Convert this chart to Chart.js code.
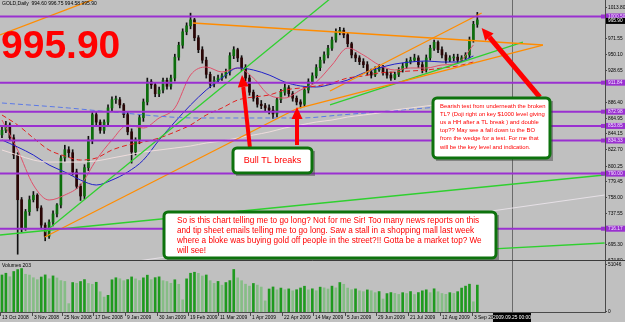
<!DOCTYPE html>
<html>
<head>
<meta charset="utf-8">
<script src="https://cdn.jsdelivr.net/npm/chart.js@4.4.1/dist/chart.umd.min.js"></script>
<style>
  body { margin: 0; background: #c0c0c0; }
  #wrap { position: relative; width: 625px; height: 322px; background: #c0c0c0; overflow: hidden; }
  #pbox { position: absolute; left: 0; top: 0; width: 625px; height: 261px; }
  #vbox { position: absolute; left: 0; top: 261px; width: 625px; height: 61px; }
</style>
</head>
<body>
<div id="wrap">
  <div id="pbox"><canvas id="priceChart"></canvas></div>
  <div id="vbox"><canvas id="volChart"></canvas></div>
</div>
<script>
// GOLD daily, Oct 2008 - Sep 2009 (one candle here = two trading days)
const opens = [842,848,855,838,815,755,717,739,755,761,
  744,721,706,725,736,748,811,822,818,792,
  773,760,798,835,869,859,848,859,878,889,
  889,882,869,846,819,835,865,886,913,909,
  897,902,915,907,918,946,962,980,988,996,
  972,956,942,923,910,915,918,921,926,948,
  956,945,932,918,899,891,883,881,878,875,
  870,889,899,905,897,891,886,883,902,913,
  921,932,942,949,958,969,980,982,976,964,
  949,945,940,936,926,922,929,932,926,922,
  918,923,929,934,940,942,945,936,929,945,
  958,966,956,949,942,945,946,942,945,949,
  969,990];
const highs = [852,860,858,842,818,758,742,760,766,763,
  747,724,728,740,750,814,828,826,822,796,
  776,802,840,872,872,862,862,882,893,894,
  892,884,872,850,838,868,890,918,916,911,
  906,918,918,922,950,966,984,992,1005,998,
  975,960,946,926,920,922,924,930,952,960,
  958,948,936,922,902,895,888,884,882,880,
  892,903,910,908,900,894,889,906,917,925,
  936,946,953,962,973,984,986,985,979,966,
  952,948,944,940,930,933,936,935,930,926,
  926,932,938,944,946,950,948,940,949,962,
  969,968,960,952,948,950,950,948,952,973,
  994,1006];
const lows = [838,845,834,810,682,712,714,734,752,740,
  716,700,703,720,732,744,806,812,788,770,
  754,756,794,830,854,844,844,855,874,884,
  878,865,842,804,815,830,860,882,904,893,
  893,898,903,903,914,942,958,976,984,968,
  952,938,918,905,906,912,915,918,922,944,
  940,928,914,895,887,879,877,874,870,864,
  866,885,895,893,887,882,878,880,898,910,
  918,928,938,945,955,966,976,972,960,945,
  940,936,932,922,918,920,927,922,918,915,
  916,920,926,931,937,940,932,925,926,942,
  955,952,945,938,940,941,938,940,943,945,
  966,986];
const closes = [848,855,838,815,755,717,739,755,761,744,
  721,706,725,736,748,811,822,818,792,773,
  760,798,835,869,859,848,859,878,889,889,
  882,869,846,819,835,865,886,913,909,897,
  902,915,907,918,946,962,980,988,996,972,
  956,942,923,910,915,918,921,926,948,956,
  945,932,918,899,891,883,881,878,875,870,
  889,899,905,897,891,886,883,902,913,921,
  932,942,949,958,969,980,982,976,964,949,
  945,940,936,926,922,929,932,926,922,918,
  923,929,934,940,942,945,936,929,945,958,
  966,956,949,942,945,946,942,945,949,969,
  990,995.9];
const volumes = [40200,42100,38300,44000,46100,47200,41000,40100,37200,35100,
  38000,40300,36100,39200,37000,34100,33200,9100,32000,31200,
  33100,35200,31000,30100,32300,22000,16200,18100,35000,37200,
  36100,34000,35200,38100,36000,34200,37100,40000,35100,37300,
  38200,34000,33100,31200,35000,30100,13200,36000,42100,43200,
  42000,39100,40200,34000,31100,33200,29100,32000,34100,46200,
  37100,34000,30200,28100,31000,29200,27100,12100,25000,27200,
  24100,26000,24200,25100,23000,24200,26100,28000,24100,25200,
  23100,27000,26200,25000,28100,26200,32000,30100,26000,24200,
  25100,23000,22100,24000,23100,21000,22200,14100,20000,21100,
  20200,19100,21000,20100,22200,19000,21100,23000,24100,21000,
  25200,22000,20100,19200,21000,20200,22100,26000,28100,30200,
  11100,29200];

// indicator lines sampled every 4th candle
const maIdx = [0,4,8,12,16,20,24,28,32,36,40,44,48,52,56,60,64,68,72,76,80,84,88,92,96,100,104,108,112,116,120];
const maFast = [861.8,821.6,774.7,754.6,761.3,774.7,808.2,835.0,855.1,851.1,864.5,877.9,922.1,932.8,926.1,931.5,918.1,895.3,891.3,902.0,912.7,935.5,958.3,948.9,935.5,928.8,931.5,931.5,935.5,938.2,962.3];
const maSlow = [868.5,855.1,837.7,821.6,813.6,808.2,810.9,821.6,828.3,832.3,837.7,845.7,855.1,868.5,877.9,888.6,892.6,895.3,902.0,904.7,907.4,911.4,918.1,920.8,924.8,926.1,927.5,928.8,931.5,934.2,939.5];
const maMid = [835.0,825.6,814.9,801.5,792.1,781.4,774.7,781.4,792.1,808.2,835.0,859.1,881.9,902.0,918.1,931.5,928.8,922.1,912.7,907.4,906.0,910.0,915.4,924.8,931.5,936.8,939.5,940.9,939.5,939.5,947.6];
const maLong = [821.6,814.9,808.2,805.5,805.5,805.5,806.9,810.9,814.9,818.9,821.6,824.3,827.0,831.0,833.7,837.7,841.7,845.7,851.1,855.1,859.1,861.8,865.8,868.5,871.2,875.2,877.9,880.6,883.2,885.9,888.6];
const dashIdx = [0,17,28,50,76,86,108,121];
const maDash = [884.6,877.9,872.5,864.5,864.5,868.5,877.9,883.2];
const paleLowIdx = [32.6, 153.4];
const paleLow = [671.5, 761.3];

// drawn trendlines: [fromCandle, fromPrice, toCandle, toPrice]
const orangeLines = [
  [-0.5, 975.7, 26.2, 1029.3],
  [48.6, 991.8, 137.7, 962.3],
  [10.9, 705.0, 75.1, 877.2],
  [75.1, 877.2, 137.7, 962.3],
  [83.5, 900.7, 122.1, 1005.2]
];
const greenLines = [
  [10.9, 711.7, 84.7, 1029.3],
  [-0.5, 707.7, 153.4, 788.1],
  [119.1, 687.6, 153.4, 697.0],
  [83.5, 882.2, 132.6, 966.3]
];
const levels = [1000.50, 911.84, 872.98, 853.85, 834.33, 790.00, 716.17];
const priceTicks = [1013.80, 971.55, 950.10, 928.65, 886.40, 864.95, 844.15, 822.70, 800.25, 779.45, 758.00, 737.55, 695.30, 674.50];
const lastPrice = 995.90;
const header = 'GOLD,Daily  994.60 996.75 994.58 995.90';

// arrows: [tailCandle, tailPrice, headCandle, headPrice]
const arrows = [
  [63.1, 825.6, 61.1, 922.1],
  [75.1, 828.3, 75.1, 879.2],
  [136.9, 892.6, 122.1, 985.1]
];

const dateLabels = ['13 Oct 2008','3 Nov 2008','25 Nov 2008','17 Dec 2008','9 Jan 2009','30 Jan 2009','19 Feb 2009','11 Mar 2009','1 Apr 2009','22 Apr 2009','14 May 2009','5 Jun 2009','29 Jun 2009','21 Jul 2009','12 Aug 2009','3 Sep 2009'];
const dateIdx = [-0.5,7.56,15.2,23.2,31.3,39.4,47.3,55.0,63.1,71.2,79.1,87.3,95.2,103.3,111.5,119.6];
const crossIdx = 129.8;
const crossLabel = '2009.09.25 00:00';
const volMaxLabel = 51046;

const noteRight = ['Bearish test from underneath the broken',
  'TL? (Doji right on key $1000 level giving',
  'us a HH after a TL break ) and double',
  'top?? May see a fall down to the BO',
  'from the wedge for a test. For me that',
  'will be the key level and indication.'];
const noteBottom = ['So is this chart telling me to go long? Not for me Sir! Too many news reports on this',
  'and tip sheet emails telling me to go long. Saw a stall in a shopping mall last week',
  'where a bloke was buying gold off people in the street?!! Gotta be a market top? We',
  'will see!'];

const X_MIN = -0.5, X_MAX = 153.5;
const FONT = '"Liberation Sans", Arial, sans-serif';
const idx = closes.map((_, i) => i);
const bull = '#0c6e0c', bear = '#2a0606';

function seg(l) { return [{ x: l[0], y: l[1] }, { x: l[2], y: l[3] }]; }
function lineDs(data, color, width, extra) {
  return Object.assign({ type: 'line', data, borderColor: color, borderWidth: width,
    pointRadius: 0, fill: false, order: 1 }, extra || {});
}
function sampled(xs, ys) { return xs.map((v, k) => ({ x: v, y: ys[k] })); }

function box(ctx, x, y, w, h) {
  ctx.fillStyle = 'rgba(60,60,60,0.45)';
  ctx.fillRect(x + 3, y + 3, w, h);
  ctx.beginPath();
  ctx.roundRect(x, y, w, h, 4);
  ctx.fillStyle = '#ffffff';
  ctx.fill();
  ctx.lineWidth = 3;
  ctx.strokeStyle = '#0d720d';
  ctx.stroke();
  ctx.fillStyle = '#ff0000';
}

function arrow(ctx, x0, y0, x1, y1, w, hl, hw) {
  const a = Math.atan2(y1 - y0, x1 - x0);
  const bx = x1 - Math.cos(a) * hl, by = y1 - Math.sin(a) * hl;
  ctx.strokeStyle = ctx.fillStyle = '#ff0000';
  ctx.lineWidth = w;
  ctx.lineCap = 'butt';
  ctx.beginPath(); ctx.moveTo(x0, y0); ctx.lineTo(bx, by); ctx.stroke();
  ctx.beginPath();
  ctx.moveTo(x1, y1);
  ctx.lineTo(bx + Math.sin(a) * hw / 2, by - Math.cos(a) * hw / 2);
  ctx.lineTo(bx - Math.sin(a) * hw / 2, by + Math.cos(a) * hw / 2);
  ctx.closePath(); ctx.fill();
}

const priceOverlay = {
  id: 'priceOverlay',
  beforeDatasetsDraw(chart) {
    const { ctx, scales: { x } } = chart;
    const cx = Math.round(x.getPixelForValue(crossIdx)) + 0.5;
    ctx.save();
    ctx.strokeStyle = '#6a6a6a'; ctx.lineWidth = 1;
    ctx.beginPath(); ctx.moveTo(cx, 0); ctx.lineTo(cx, 261); ctx.stroke();
    ctx.restore();
  },
  afterDraw(chart) {
    const { ctx, scales: { x, y } } = chart;
    const px = v => x.getPixelForValue(v), py = v => y.getPixelForValue(v);
    ctx.save();
    // header + big price
    ctx.fillStyle = '#000';
    ctx.font = '5px ' + FONT;
    ctx.textBaseline = 'middle';
    ctx.fillText(header, 2, 4);
    ctx.fillStyle = '#ff0000';
    ctx.font = 'bold 39px ' + FONT;
    ctx.textBaseline = 'alphabetic';
    ctx.fillText(lastPrice.toFixed(2), 1, 58);

    // arrows
    arrows.forEach((a, k) => {
      arrow(ctx, px(a[0]), py(a[1]), px(a[2]), py(a[3]), k === 2 ? 5 : 4, 12, 11);
    });

    // notes
    box(ctx, 233, 148, 79, 25);
    ctx.font = '9px ' + FONT;
    ctx.textAlign = 'center'; ctx.textBaseline = 'middle';
    ctx.fillText('Bull TL breaks', 272.5, 161);

    box(ctx, 433, 98, 117, 60);
    ctx.textAlign = 'left';
    ctx.font = '5.9px ' + FONT;
    noteRight.forEach((t, k) => ctx.fillText(t, 440, 106 + k * 8.2));

    box(ctx, 164, 212, 332, 46);
    ctx.font = '8.2px ' + FONT;
    noteBottom.forEach((t, k) => ctx.fillText(t, 177, 221 + k * 10));

    // price axis
    ctx.fillStyle = '#c0c0c0';
    ctx.fillRect(606, 0, 19, 261);
    ctx.strokeStyle = '#4a4a4a'; ctx.lineWidth = 1;
    ctx.beginPath(); ctx.moveTo(605.5, 0); ctx.lineTo(605.5, 261); ctx.stroke();
    ctx.font = '4.8px ' + FONT;
    ctx.textAlign = 'left'; ctx.textBaseline = 'middle';
    priceTicks.forEach(v => {
      const yy = Math.round(py(v)) + 0.5;
      ctx.beginPath(); ctx.moveTo(605, yy); ctx.lineTo(607, yy); ctx.stroke();
      ctx.fillStyle = '#000';
      ctx.fillText(v.toFixed(2), 608, yy);
    });
    levels.forEach(v => {
      const yy = py(v);
      ctx.fillStyle = '#9a30d0';
      ctx.fillRect(606, yy - 3, 19, 6);
      ctx.fillRect(601, yy - 2, 4, 4);
      ctx.fillStyle = '#f2e6ff';
      ctx.fillText(v.toFixed(2), 608, yy);
    });
    const ly = py(lastPrice) + 1;
    ctx.fillStyle = '#000';
    ctx.fillRect(606, ly - 3, 19, 6);
    ctx.fillStyle = '#fff';
    ctx.fillText(lastPrice.toFixed(2), 608, ly);
    // panel separator
    ctx.strokeStyle = '#3a3a3a';
    ctx.beginPath(); ctx.moveTo(0, 260.5); ctx.lineTo(625, 260.5); ctx.stroke();
    ctx.restore();
  }
};

const levelDs = levels.map(v => lineDs([{ x: X_MIN, y: v }, { x: X_MAX, y: v }], '#9a30d0', 2));

new Chart(document.getElementById('priceChart'), {
  data: {
    datasets: [
      ...levelDs,
      ...orangeLines.map(l => lineDs(seg(l), '#ff8c00', 1.3)),
      ...greenLines.map(l => lineDs(seg(l), '#2fd02f', 1.3)),
      lineDs(sampled(paleLowIdx, paleLow), '#e6e0e6', 1, { order: 3 }),
      lineDs(sampled(maIdx, maLong), '#eedcdc', 1, { order: 3, cubicInterpolationMode: 'monotone' }),
      lineDs(sampled(dashIdx, maDash), '#5a78e6', 1, { order: 3, borderDash: [5, 3], cubicInterpolationMode: 'monotone' }),
      lineDs(sampled(maIdx, maSlow), '#e02020', 1, { order: 3, borderDash: [5, 3], cubicInterpolationMode: 'monotone' }),
      lineDs(sampled(maIdx, maMid), '#2020c8', 1, { order: 3, cubicInterpolationMode: 'monotone' }),
      lineDs(sampled(maIdx, maFast), '#e0506a', 1, { order: 3, cubicInterpolationMode: 'monotone' }),
      { type: 'bar', order: 5, grouped: false, barThickness: 2, minBarLength: 1,
        data: idx.map(i => ({ x: i, y: [opens[i], closes[i]] })),
        backgroundColor: idx.map(i => closes[i] >= opens[i] ? bull : bear) },
      { type: 'bar', order: 6, grouped: false, barThickness: 1,
        data: idx.map(i => ({ x: i, y: [lows[i], highs[i]] })),
        backgroundColor: '#111' }
    ]
  },
  options: {
    responsive: true, maintainAspectRatio: false, animation: false,
    layout: { padding: { right: 20 } },
    plugins: { legend: { display: false }, tooltip: { enabled: false } },
    scales: {
      x: { type: 'linear', offset: false, min: X_MIN, max: X_MAX, display: false },
      y: { type: 'linear', min: 672.9, max: 1022.6, display: false }
    }
  },
  plugins: [priceOverlay]
});

const volOverlay = {
  id: 'volOverlay',
  beforeDatasetsDraw(chart) {
    const { ctx, scales: { x } } = chart;
    const cx = Math.round(x.getPixelForValue(crossIdx)) + 0.5;
    ctx.save();
    ctx.strokeStyle = '#6a6a6a'; ctx.lineWidth = 1;
    ctx.beginPath(); ctx.moveTo(cx, 0); ctx.lineTo(cx, 52); ctx.stroke();
    ctx.restore();
  },
  afterDraw(chart) {
    const { ctx, scales: { x, y } } = chart;
    ctx.save();
    ctx.font = '5px ' + FONT;
    ctx.fillStyle = '#000';
    ctx.textBaseline = 'middle';
    ctx.fillText('Volumes 203', 2, 5);
    ctx.strokeStyle = '#4a4a4a'; ctx.lineWidth = 1;
    ctx.beginPath(); ctx.moveTo(605.5, 0); ctx.lineTo(605.5, 52); ctx.stroke();
    ctx.beginPath(); ctx.moveTo(0, 51.5); ctx.lineTo(606, 51.5); ctx.stroke();
    ctx.font = '4.8px ' + FONT;
    [[volMaxLabel, String(volMaxLabel)], [0, '0']].forEach(([v, t]) => {
      const yy = Math.round(y.getPixelForValue(v)) - 0.5;
      ctx.beginPath(); ctx.moveTo(605, yy); ctx.lineTo(607, yy); ctx.stroke();
      ctx.fillText(t, 608, yy);
    });
    // date axis
    ctx.font = '4.9px ' + FONT;
    dateLabels.forEach((t, k) => {
      const xx = Math.max(0.5, Math.round(x.getPixelForValue(dateIdx[k])) + 0.5);
      ctx.beginPath(); ctx.moveTo(xx, 52); ctx.lineTo(xx, 55); ctx.stroke();
      ctx.fillText(t, xx + 1.5, 57);
    });
    const cx = Math.round(x.getPixelForValue(crossIdx));
    ctx.fillStyle = '#000';
    ctx.fillRect(cx - 19, 52, 38, 9);
    ctx.fillStyle = '#fff';
    ctx.textAlign = 'center';
    ctx.fillText(crossLabel, cx, 57);
    ctx.restore();
  }
};

new Chart(document.getElementById('volChart'), {
  type: 'bar',
  data: {
    datasets: [{
      grouped: false, barThickness: 2,
      data: idx.map(i => ({ x: i, y: volumes[i] })),
      backgroundColor: idx.map(i => (i === 0 || volumes[i] >= volumes[i - 1]) ? '#1f9a1f' : '#86bd86')
    }]
  },
  options: {
    responsive: true, maintainAspectRatio: false, animation: false,
    layout: { padding: { right: 20, bottom: 10 } },
    plugins: { legend: { display: false }, tooltip: { enabled: false } },
    scales: {
      x: { type: 'linear', offset: false, min: X_MIN, max: X_MAX, display: false },
      y: { type: 'linear', min: 0, max: 55390, display: false }
    }
  },
  plugins: [volOverlay]
});
</script>
</body>
</html>
